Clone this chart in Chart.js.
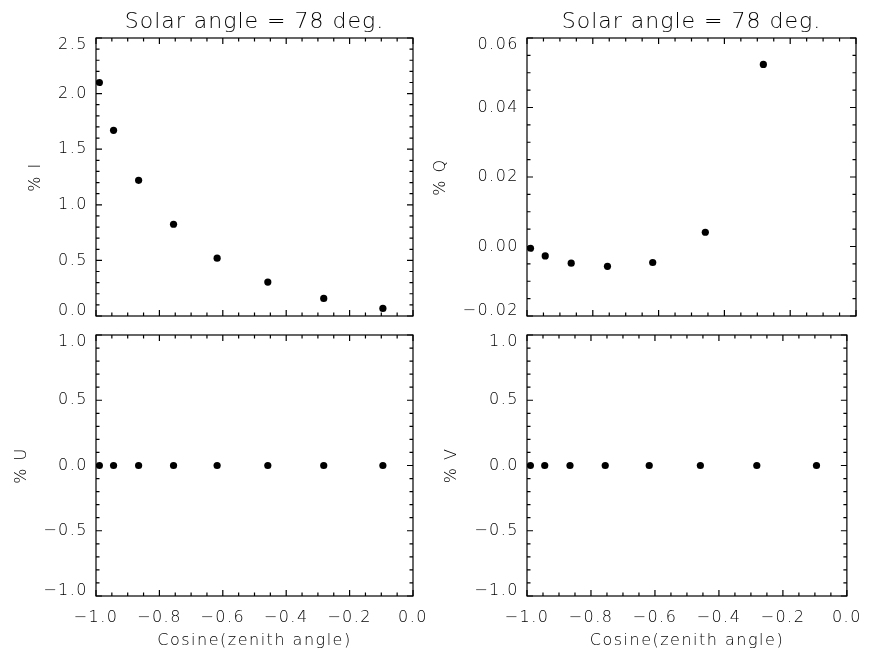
<!DOCTYPE html>
<html>
<head>
<meta charset="utf-8">
<script src="https://cdn.jsdelivr.net/npm/chart.js@4.4.1/dist/chart.umd.min.js"></script>
<style>
  html, body { margin: 0; padding: 0; background: #fff; }
  #wrap { position: relative; width: 872px; height: 655px; }
  #wrap canvas { position: absolute; left: 0; top: 0; }
</style>
</head>
<body>
<div id="wrap">
  <canvas id="cI" width="872" height="655"></canvas>
  <canvas id="cQ" width="872" height="655"></canvas>
  <canvas id="cU" width="872" height="655"></canvas>
  <canvas id="cV" width="872" height="655"></canvas>
</div>
<script>
// cosine of zenith angle (quadrature points)
const mu = [-0.9894, -0.9446, -0.8656, -0.7554, -0.6179, -0.4580, -0.2816, -0.0950];
const pctI = [2.10, 1.67, 1.22, 0.825, 0.52, 0.305, 0.158, 0.068];
const pctQ = [-0.0005, -0.0027, -0.0048, -0.0057, -0.0046, 0.0041, 0.0524, null];
const pctU = [0, 0, 0, 0, 0, 0, 0, 0];
const pctV = [0, 0, 0, 0, 0, 0, 0, 0];

const xTicks = [-1.0, -0.8, -0.6, -0.4, -0.2, 0.0];
const iTicks = [0.0, 0.5, 1.0, 1.5, 2.0, 2.5];
const qTicks = [-0.02, 0.00, 0.02, 0.04, 0.06];
const uvTicks = [-1.0, -0.5, 0.0, 0.5, 1.0];

const titleText = 'Solar angle = 78 deg.';
const xTitle = 'Cosine(zenith angle)';

const FONT = "'DejaVu Sans', sans-serif";
const INK = '#000';
const W = 872, H = 655;

function fmt(v, d) {
  return (v < 0 ? '\u2212' : '') + Math.abs(v).toFixed(d);
}

function minorValues(ticks, n) {
  const out = [];
  for (let i = 0; i < ticks.length - 1; i++) {
    const step = (ticks[i + 1] - ticks[i]) / n;
    for (let k = 1; k < n; k++) out.push(ticks[i] + k * step);
  }
  return out;
}

// IDL-ish box with inward ticks on all four sides, plus the panel title
const idlFrame = {
  id: 'idlFrame',
  beforeDraw(chart) {
    chart.ctx.letterSpacing = '1.5px';
    const y = chart.scales.y;
    const items = y.getLabelItems();
    if (items.length && !items._shifted) {
      items[0].options.translation[1] -= 5.5;
      items[items.length - 1].options.translation[1] += 7;
      items._shifted = true;
    }
  },
  afterDraw(chart, args, o) {
    const { ctx, chartArea: a, scales: { x, y } } = chart;
    ctx.save();
    ctx.strokeStyle = INK;
    ctx.lineWidth = 1.2;
    ctx.strokeRect(a.left, a.top, a.right - a.left, a.bottom - a.top);
    ctx.beginPath();
    const xt = (v, len) => {
      const p = x.getPixelForValue(v);
      ctx.moveTo(p, a.bottom); ctx.lineTo(p, a.bottom - len);
      ctx.moveTo(p, a.top); ctx.lineTo(p, a.top + len);
    };
    const yt = (v, len) => {
      const p = y.getPixelForValue(v);
      ctx.moveTo(a.left, p); ctx.lineTo(a.left + len, p);
      ctx.moveTo(a.right, p); ctx.lineTo(a.right - len, p);
    };
    xTicks.forEach(v => xt(v, 6));
    minorValues(xTicks, o.xMinor).forEach(v => xt(v, 3.5));
    o.yTicks.forEach(v => yt(v, 6));
    minorValues(o.yTicks, o.yMinor).forEach(v => yt(v, 3.5));
    ctx.stroke();

    if (o.title) {
      ctx.letterSpacing = '1px';
      ctx.fillStyle = INK;
      ctx.font = "300 22px " + FONT;
      ctx.textAlign = 'center';
      ctx.textBaseline = 'alphabetic';
      ctx.fillText(titleText, (a.left + a.right) / 2, 28);
    }
    ctx.restore();
  }
};

function makePanel(id, p) {
  const padLeft = p.yTitleX - 9.6;
  const axisBottom = 650.6;
  const tickFont = { family: FONT, size: 16, weight: 300 };
  new Chart(document.getElementById(id), {
    type: 'scatter',
    data: {
      datasets: [{
        data: mu.map((m, i) => ({ x: m, y: p.values[i] })),
        backgroundColor: INK,
        borderColor: INK,
        pointRadius: 3.6,
        pointHoverRadius: 3.6,
        borderWidth: 0
      }]
    },
    options: {
      responsive: false,
      animation: false,
      events: [],
      layout: {
        padding: {
          left: padLeft,
          right: W - p.right,
          top: p.top,
          bottom: p.showX ? H - axisBottom : H - p.bottom
        }
      },
      plugins: {
        legend: { display: false },
        tooltip: { enabled: false },
        title: { display: false },
        idlFrame: { title: p.title, yTicks: p.yTicks, yMinor: p.yMinor, xMinor: 4 }
      },
      scales: {
        x: {
          type: 'linear',
          min: xTicks[0],
          max: xTicks[xTicks.length - 1],
          afterBuildTicks: s => { s.ticks = xTicks.map(v => ({ value: v })); },
          afterFit: s => { s.height = p.showX ? axisBottom - p.bottom : 0; },
          grid: { display: false, drawTicks: false },
          border: { display: false },
          ticks: {
            display: p.showX, padding: 12.4, font: tickFont, color: INK,
            maxRotation: 0, autoSkip: false, callback: v => fmt(v, 1)
          },
          title: { display: p.showX, text: xTitle, font: tickFont, color: INK, padding: 0 }
        },
        y: {
          type: 'linear',
          min: p.yTicks[0],
          max: p.yTicks[p.yTicks.length - 1],
          afterBuildTicks: s => { s.ticks = p.yTicks.map(v => ({ value: v })); },
          afterFit: s => { s.width = p.left - padLeft; },
          grid: { display: false, drawTicks: false },
          border: { display: false },
          ticks: {
            padding: 8, font: tickFont, color: INK,
            autoSkip: false, callback: v => fmt(v, p.yDec)
          },
          title: { display: true, text: p.yTitle, font: tickFont, color: INK, padding: 0 }
        }
      }
    },
    plugins: [idlFrame]
  });
}

makePanel('cI', { values: pctI, yTicks: iTicks, yMinor: 5, yDec: 1, yTitle: '% I',
  left: 96, right: 413, top: 38, bottom: 316, yTitleX: 36, showX: false, title: true });
makePanel('cQ', { values: pctQ, yTicks: qTicks, yMinor: 4, yDec: 2, yTitle: '% Q',
  left: 527, right: 856, top: 38, bottom: 316, yTitleX: 441, showX: false, title: true });
makePanel('cU', { values: pctU, yTicks: uvTicks, yMinor: 5, yDec: 1, yTitle: '% U',
  left: 96, right: 413, top: 335, bottom: 596, yTitleX: 21.7, showX: true, title: false });
makePanel('cV', { values: pctV, yTicks: uvTicks, yMinor: 5, yDec: 1, yTitle: '% V',
  left: 527, right: 856, top: 335, bottom: 596, yTitleX: 451.7, showX: true, title: false });
</script>
</body>
</html>
